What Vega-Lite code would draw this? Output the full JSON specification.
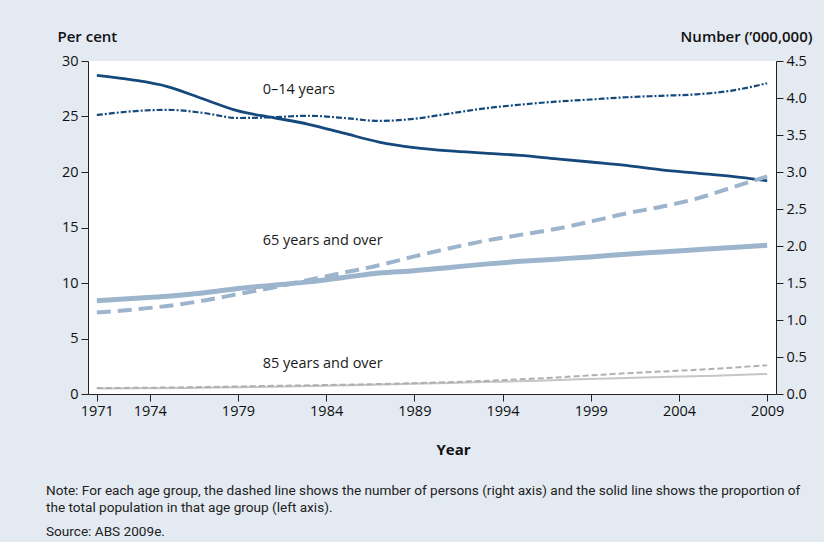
{
  "$schema": "https://vega.github.io/schema/vega-lite/v6.json",
  "width": 688,
  "height": 333,
  "autosize": {"type": "none"},
  "padding": {"left": 88, "top": 61, "right": 48, "bottom": 148},
  "background": "#e4eaf1",
  "config": {
    "view": {"fill": "white", "stroke": null},
    "font": "Open Sans",
    "axis": {
      "labelFont": "Open Sans", "labelFontSize": 14.5, "labelColor": "#111111",
      "domainColor": "#222222", "tickColor": "#222222", "tickSize": 7, "labelPadding": 3,
      "grid": false, "titleFont": "Open Sans", "titleFontWeight": 600, "titleFontSize": 15, "titleColor": "#111111"
    }
  },
  "title": {
    "text": ["Note: For each age group, the dashed line shows the number of persons (right axis) and the solid line shows the proportion of", "the total population in that age group (left axis)."],
    "subtitle": "Source: ABS 2009e.",
    "orient": "bottom", "anchor": "start", "frame": "group", "dx": -42, "offset": 27,
    "font": "Roboto", "fontSize": 13.6, "fontWeight": "normal", "color": "#222222", "lineHeight": 17,
    "subtitleFont": "Roboto", "subtitleFontSize": 13.6, "subtitleColor": "#222222", "subtitlePadding": 10
  },
  "datasets": {
    "series": [
      {"year": 1971, "group": "0–14", "pct": 28.7, "num": 3.77},
      {"year": 1973, "group": "0–14", "pct": 28.3, "num": 3.82},
      {"year": 1975, "group": "0–14", "pct": 27.7, "num": 3.84},
      {"year": 1977, "group": "0–14", "pct": 26.6, "num": 3.8},
      {"year": 1979, "group": "0–14", "pct": 25.5, "num": 3.73},
      {"year": 1981, "group": "0–14", "pct": 24.9, "num": 3.74},
      {"year": 1983, "group": "0–14", "pct": 24.3, "num": 3.76},
      {"year": 1985, "group": "0–14", "pct": 23.5, "num": 3.73},
      {"year": 1987, "group": "0–14", "pct": 22.7, "num": 3.69},
      {"year": 1989, "group": "0–14", "pct": 22.2, "num": 3.72},
      {"year": 1991, "group": "0–14", "pct": 21.9, "num": 3.79},
      {"year": 1993, "group": "0–14", "pct": 21.7, "num": 3.86},
      {"year": 1995, "group": "0–14", "pct": 21.5, "num": 3.91},
      {"year": 1997, "group": "0–14", "pct": 21.2, "num": 3.95},
      {"year": 1999, "group": "0–14", "pct": 20.9, "num": 3.98},
      {"year": 2001, "group": "0–14", "pct": 20.6, "num": 4.01},
      {"year": 2003, "group": "0–14", "pct": 20.2, "num": 4.03},
      {"year": 2005, "group": "0–14", "pct": 19.9, "num": 4.05},
      {"year": 2007, "group": "0–14", "pct": 19.6, "num": 4.1},
      {"year": 2009, "group": "0–14", "pct": 19.2, "num": 4.2},
      {"year": 1971, "group": "65+", "pct": 8.4, "num": 1.1},
      {"year": 1973, "group": "65+", "pct": 8.6, "num": 1.14},
      {"year": 1975, "group": "65+", "pct": 8.8, "num": 1.19},
      {"year": 1977, "group": "65+", "pct": 9.1, "num": 1.26},
      {"year": 1979, "group": "65+", "pct": 9.5, "num": 1.35},
      {"year": 1981, "group": "65+", "pct": 9.8, "num": 1.44},
      {"year": 1983, "group": "65+", "pct": 10.1, "num": 1.54},
      {"year": 1985, "group": "65+", "pct": 10.5, "num": 1.64},
      {"year": 1987, "group": "65+", "pct": 10.9, "num": 1.74},
      {"year": 1989, "group": "65+", "pct": 11.1, "num": 1.86},
      {"year": 1991, "group": "65+", "pct": 11.4, "num": 1.97},
      {"year": 1993, "group": "65+", "pct": 11.7, "num": 2.07},
      {"year": 1995, "group": "65+", "pct": 11.95, "num": 2.15},
      {"year": 1997, "group": "65+", "pct": 12.15, "num": 2.23},
      {"year": 1999, "group": "65+", "pct": 12.35, "num": 2.33},
      {"year": 2001, "group": "65+", "pct": 12.6, "num": 2.44},
      {"year": 2003, "group": "65+", "pct": 12.8, "num": 2.53},
      {"year": 2005, "group": "65+", "pct": 13.0, "num": 2.64},
      {"year": 2007, "group": "65+", "pct": 13.2, "num": 2.79},
      {"year": 2009, "group": "65+", "pct": 13.4, "num": 2.94},
      {"year": 1971, "group": "85+", "pct": 0.5, "num": 0.08},
      {"year": 1976, "group": "85+", "pct": 0.55, "num": 0.09},
      {"year": 1981, "group": "85+", "pct": 0.65, "num": 0.11},
      {"year": 1986, "group": "85+", "pct": 0.8, "num": 0.13},
      {"year": 1991, "group": "85+", "pct": 1.0, "num": 0.16},
      {"year": 1996, "group": "85+", "pct": 1.2, "num": 0.21},
      {"year": 2001, "group": "85+", "pct": 1.45, "num": 0.28},
      {"year": 2006, "group": "85+", "pct": 1.65, "num": 0.34},
      {"year": 2009, "group": "85+", "pct": 1.8, "num": 0.39}
    ],
    "labels": [
      {"year": 1980.4, "pct": 27.4, "label": "0–14 years"},
      {"year": 1980.4, "pct": 13.8, "label": "65 years and over"},
      {"year": 1980.4, "pct": 2.7, "label": "85 years and over"}
    ]
  },
  "data": {"name": "series"},
  "encoding": {
    "x": {
      "field": "year", "type": "quantitative",
      "scale": {"domain": [1970.5, 2009.5], "nice": false, "zero": false},
      "axis": {
        "values": [1971, 1974, 1979, 1984, 1989, 1994, 1999, 2004, 2009], "format": "d",
        "title": "Year", "titleFontWeight": "bold", "titleFontSize": 15,
        "titleX": 365, "titleY": 55, "titleBaseline": "middle", "titleAlign": "center"
      }
    }
  },
  "layer": [
    {
      "encoding": {
        "y": {
          "field": "pct", "type": "quantitative",
          "scale": {"domain": [0, 30], "nice": false},
          "axis": {
            "orient": "left", "values": [0, 5, 10, 15, 20, 25, 30],
            "title": "Per cent", "titleAngle": 0, "titleAlign": "left", "titleBaseline": "middle",
            "titleX": -31, "titleY": -25
          }
        }
      },
      "layer": [
        {
          "transform": [{"filter": "datum.group === '85+'"}],
          "mark": {"type": "line", "interpolate": "monotone", "color": "#c6c6c6", "strokeWidth": 2}
        },
        {
          "transform": [{"filter": "datum.group === '65+'"}],
          "mark": {"type": "line", "interpolate": "monotone", "color": "#9cb5cc", "strokeWidth": 5}
        },
        {
          "transform": [{"filter": "datum.group === '0–14'"}],
          "mark": {"type": "line", "interpolate": "monotone", "color": "#15497c", "strokeWidth": 2.8}
        },
        {
          "data": {"name": "labels"},
          "mark": {"type": "text", "align": "left", "baseline": "middle", "font": "Open Sans", "fontSize": 14.5, "color": "#1a1a1a"},
          "encoding": {"text": {"field": "label", "type": "nominal"}}
        }
      ]
    },
    {
      "encoding": {
        "y": {
          "field": "num", "type": "quantitative",
          "scale": {"domain": [0, 4.5], "nice": false},
          "axis": {
            "orient": "right", "values": [0, 0.5, 1, 1.5, 2, 2.5, 3, 3.5, 4, 4.5], "format": ".1f",
            "title": "Number (’000,000)", "titleAngle": 0, "titleAlign": "right", "titleBaseline": "middle",
            "titleX": 36, "titleY": -25
          }
        }
      },
      "layer": [
        {
          "transform": [{"filter": "datum.group === '85+'"}],
          "mark": {"type": "line", "interpolate": "monotone", "color": "#b0b0b0", "strokeWidth": 2, "strokeDash": [6, 3]}
        },
        {
          "transform": [{"filter": "datum.group === '65+'"}],
          "mark": {"type": "line", "interpolate": "monotone", "color": "#9cb5cc", "strokeWidth": 4, "strokeDash": [14, 7]}
        },
        {
          "transform": [{"filter": "datum.group === '0–14'"}],
          "mark": {"type": "line", "interpolate": "monotone", "color": "#15497c", "strokeWidth": 2.2, "strokeDash": [6, 2, 2, 2]}
        }
      ]
    }
  ],
  "resolve": {"scale": {"y": "independent"}}
}
